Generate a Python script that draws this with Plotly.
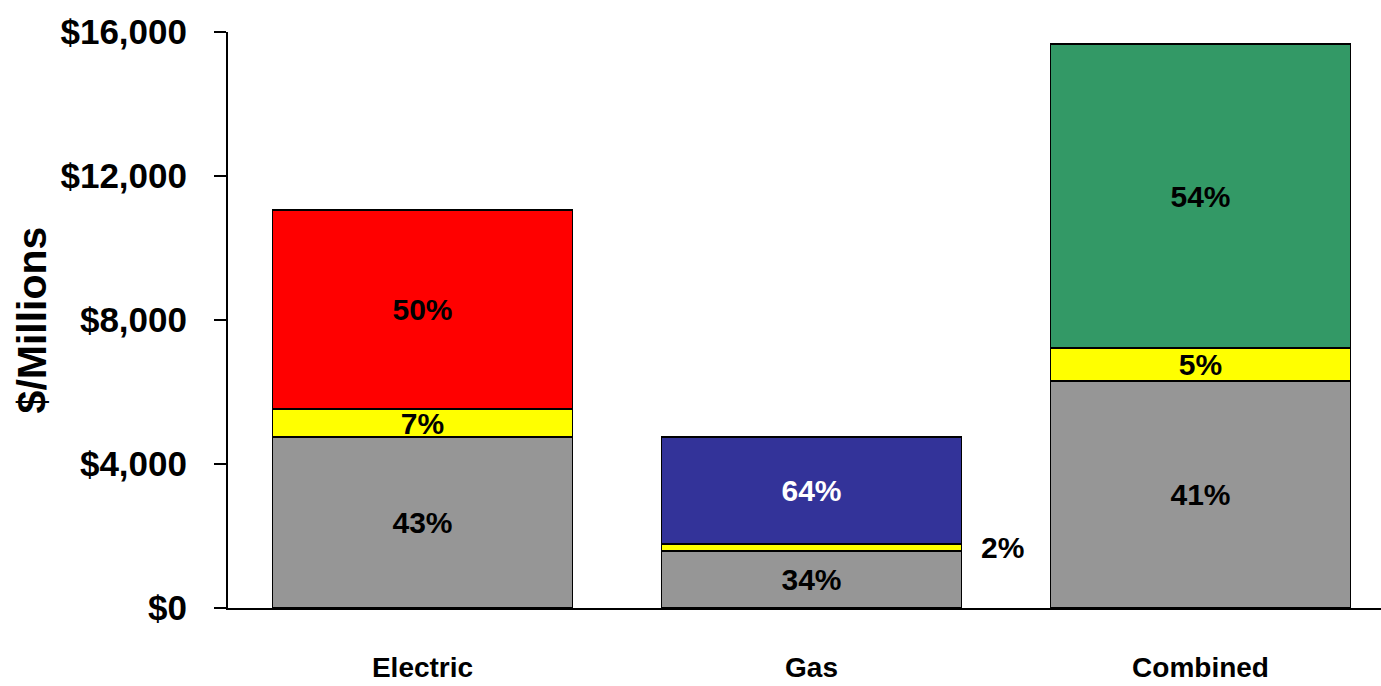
import plotly.graph_objects as go

categories = ["Electric", "Gas", "Combined"]
base_values = [4750, 1583, 6306]
middle_values = [775, 195, 916]
top_values = [5531, 2972, 8445]
base_labels = ["43%", "34%", "41%"]
middle_labels = ["7%", "", "5%"]
top_labels = ["50%", "64%", "54%"]
gas_middle_label = "2%"
top_colors = ["#FF0000", "#333399", "#339966"]
top_text_colors = ["black", "white", "black"]

FONT = "Liberation Sans, Arial, sans-serif"
xs = list(range(len(categories)))
W = 0.77
line = dict(color="black", width=1.5)
lab_font = dict(family=FONT, size=30, color="black", weight="bold")

fig = go.Figure()
fig.add_trace(go.Bar(x=xs, y=base_values, width=W, marker=dict(color="#969696", line=line),
                     text=base_labels, textposition="inside", insidetextanchor="middle",
                     textangle=0, constraintext="none", textfont=lab_font))
fig.add_trace(go.Bar(x=xs, y=middle_values, width=W, marker=dict(color="#FFFF00", line=line),
                     text=middle_labels, textposition="inside", insidetextanchor="middle",
                     textangle=0, constraintext="none", textfont=lab_font))
fig.add_trace(go.Bar(x=xs, y=top_values, width=W, marker=dict(color=top_colors, line=line),
                     text=top_labels, textposition="inside", insidetextanchor="middle",
                     textangle=0, constraintext="none",
                     textfont=dict(family=FONT, size=30, color=top_text_colors, weight="bold")))

fig.add_annotation(x=1.49, y=base_values[1] + middle_values[1] / 2, text=gas_middle_label,
                   showarrow=False, xanchor="center", yanchor="middle", font=lab_font)

fig.update_layout(
    barmode="stack",
    width=1381, height=686,
    margin=dict(l=228, r=0, t=32, b=78),
    plot_bgcolor="white", paper_bgcolor="white",
    showlegend=False,
    xaxis=dict(range=[-0.5, 2.464], tickvals=xs, ticktext=categories, automargin=False,
               showline=True, linecolor="black", linewidth=2,
               ticks="outside", ticklen=33, tickcolor="rgba(0,0,0,0)",
               tickfont=dict(family=FONT, size=28, color="black", weight="bold"),
               showgrid=False, zeroline=False),
    yaxis=dict(range=[0, 16000], tickvals=[0, 4000, 8000, 12000, 16000],
               ticktext=["$0", "$4,000", "$8,000", "$12,000", "$16,000"], automargin=False,
               showline=True, linecolor="black", linewidth=2,
               ticks="outside", ticklen=12, tickwidth=2, tickcolor="black",
               ticklabelstandoff=20,
               tickfont=dict(family=FONT, size=35, color="black", weight="bold"),
               title=dict(text="$/Millions", standoff=1,
                          font=dict(family=FONT, size=41, color="black", weight="bold")),
               showgrid=False, zeroline=False),
)

fig.write_html("out.html", config={"displayModeBar": False},
               post_script="document.body.style.margin='0';document.body.style.overflow='hidden';")
